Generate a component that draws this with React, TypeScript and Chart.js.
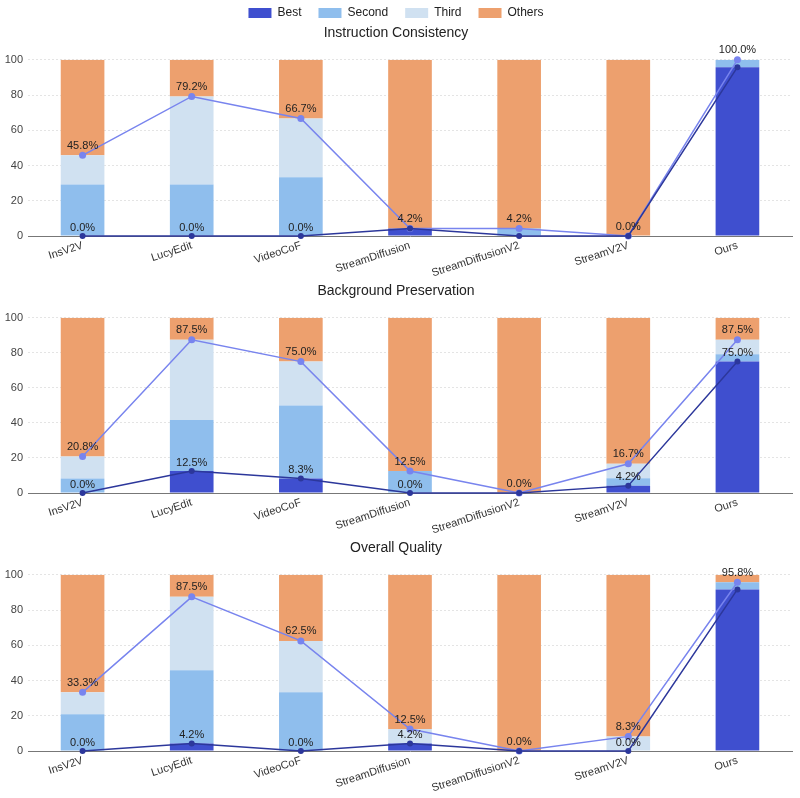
import React, { useEffect, useRef } from "react";
import { Chart, registerables } from "chart.js";

Chart.register(...registerables);

const categories = ["InsV2V", "LucyEdit", "VideoCoF", "StreamDiffusion", "StreamDiffusionV2", "StreamV2V", "Ours"];
const seriesNames = ["Best", "Second", "Third", "Others"];

// Instruction Consistency
const icBest = [0, 0, 0, 4.2, 0, 0, 95.8];
const icSecond = [29.2, 29.2, 33.3, 0, 4.2, 0, 4.2];
const icThird = [16.6, 50, 33.4, 0, 0, 0, 0];
const icOthers = [54.2, 20.8, 33.3, 95.8, 95.8, 100, 0];
const icTop3 = [45.8, 79.2, 66.7, 4.2, 4.2, 0, 100];

// Background Preservation
const bpBest = [0, 12.5, 8.3, 0, 0, 4.2, 75];
const bpSecond = [8.3, 29.2, 41.7, 12.5, 0, 4.2, 4.2];
const bpThird = [12.5, 45.8, 25, 0, 0, 8.3, 8.3];
const bpOthers = [79.2, 12.5, 25, 87.5, 100, 83.3, 12.5];
const bpTop3 = [20.8, 87.5, 75, 12.5, 0, 16.7, 87.5];

// Overall Quality
const oqBest = [0, 4.2, 0, 4.2, 0, 0, 91.7];
const oqSecond = [20.8, 41.6, 33.3, 0, 0, 0, 4.1];
const oqThird = [12.5, 41.7, 29.2, 8.3, 0, 8.3, 0];
const oqOthers = [66.7, 12.5, 37.5, 87.5, 100, 91.7, 4.2];
const oqTop3 = [33.3, 87.5, 62.5, 12.5, 0, 8.3, 95.8];

const yTicks = [0, 20, 40, 60, 80, 100];

const FONT = '"Liberation Sans", Arial, Helvetica, sans-serif';
const barColors = ["#3f4fcf", "#8fbeed", "#d0e1f1", "#eda06e"];
const top3Color = "#7884ee";
const bestLineColor = "#2c379b";

const labelPlugin = {
  id: "pctLabels",
  afterDatasetsDraw(chart: any) {
    const ctx = chart.ctx;
    const topMeta = chart.getDatasetMeta(4);
    const bestMeta = chart.getDatasetMeta(5);
    const top: number[] = chart.data.datasets[4].data;
    const best: number[] = chart.data.datasets[5].data;
    ctx.save();
    ctx.font = `11px ${FONT}`;
    ctx.fillStyle = "#222";
    ctx.textAlign = "center";
    ctx.textBaseline = "bottom";
    topMeta.data.forEach((pt: any, i: number) => {
      ctx.fillText(top[i].toFixed(1) + "%", pt.x, pt.y - 4);
      if (top[i] - best[i] >= 6) {
        const bp = bestMeta.data[i];
        ctx.fillText(best[i].toFixed(1) + "%", bp.x, bp.y - 3);
      }
    });
    ctx.restore();
  },
};

type PanelProps = {
  title: string;
  best: number[];
  second: number[];
  third: number[];
  others: number[];
  top3: number[];
  legend: boolean;
  top: number;
  height: number;
};

function Panel(props: PanelProps) {
  const ref = useRef<HTMLCanvasElement | null>(null);
  useEffect(() => {
    if (!ref.current) return;
    const values = [props.best, props.second, props.third, props.others];
    const barSets = values.map((v, i) => ({
      type: "bar" as const,
      label: seriesNames[i],
      data: v,
      backgroundColor: barColors[i],
      borderWidth: 0,
      stack: "bars",
      order: 2,
      barPercentage: 0.5,
      categoryPercentage: 0.8,
    }));
    const chart = new Chart(ref.current, {
      type: "bar",
      data: {
        labels: categories,
        datasets: [
          ...barSets,
          {
            type: "line" as const,
            label: "Top3",
            data: props.top3,
            borderColor: top3Color,
            backgroundColor: top3Color,
            borderWidth: 1.5,
            pointRadius: 3.5,
            pointBorderWidth: 0,
            stack: "top3",
            order: 1,
            clip: false,
          } as any,
          {
            type: "line" as const,
            label: "BestLine",
            data: props.best,
            borderColor: bestLineColor,
            backgroundColor: bestLineColor,
            borderWidth: 1.5,
            pointRadius: 3,
            pointBorderWidth: 0,
            stack: "bestline",
            order: 0,
            clip: false,
          } as any,
        ],
      },
      options: {
        animation: false,
        responsive: true,
        maintainAspectRatio: false,
        layout: { padding: { top: props.legend ? -10 : 0, right: 8, left: 0, bottom: 0 } },
        plugins: {
          legend: {
            display: props.legend,
            position: "top",
            weight: 3000,
            maxHeight: 35,
            labels: {
              boxWidth: 23,
              boxHeight: 10,
              padding: 17,
              color: "#222",
              font: { size: 12, family: FONT },
              filter: (item: any) => item.datasetIndex < 4,
            },
          } as any,
          title: {
            display: true,
            text: props.title,
            color: "#222",
            font: { size: 14, weight: "normal", family: FONT },
            padding: { top: 0, bottom: 18 },
          },
          tooltip: { enabled: false },
        },
        scales: {
          x: {
            stacked: true,
            grid: { display: false },
            border: { display: true, color: "#777", width: 1 },
            ticks: {
              color: "#333",
              font: { size: 11, family: FONT },
              minRotation: 18,
              maxRotation: 18,
              padding: -5,
            },
            afterFit: (scale: any) => {
              scale.height = 45;
            },
          },
          y: {
            stacked: true,
            min: 0,
            max: 100,
            grid: { color: "#e4e4e4", drawTicks: false, lineWidth: 1 },
            border: { display: false, dash: [2, 2] },
            ticks: {
              stepSize: 20,
              color: "#444",
              padding: 5,
              font: { size: 11, family: FONT },
              callback: (v: any) => (yTicks.includes(Number(v)) ? String(v) : ""),
            },
            afterFit: (scale: any) => {
              scale.width = 28;
            },
          },
        },
      } as any,
      plugins: [labelPlugin],
    });
    return () => chart.destroy();
  }, []);
  return (
    <div style={{ position: "absolute", left: 0, top: props.top, width: 800, height: props.height }}>
      <canvas ref={ref} />
    </div>
  );
}

export default function App() {
  return (
    <div style={{ position: "absolute", left: 0, top: 0, width: 800, height: 798, background: "#fff", overflow: "hidden" }}>
      <Panel title="Instruction Consistency" best={icBest} second={icSecond} third={icThird} others={icOthers} top3={icTop3} legend={true} top={0} height={281} />
      <Panel title="Background Preservation" best={bpBest} second={bpSecond} third={bpThird} others={bpOthers} top3={bpTop3} legend={false} top={283} height={255} />
      <Panel title="Overall Quality" best={oqBest} second={oqSecond} third={oqThird} others={oqOthers} top3={oqTop3} legend={false} top={540} height={256} />
    </div>
  );
}
